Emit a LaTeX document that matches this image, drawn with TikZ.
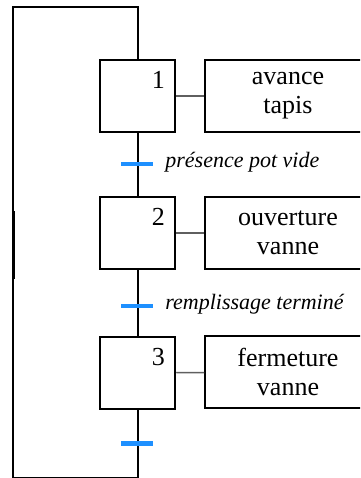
\documentclass[tikz,border=0pt]{standalone}
\usepackage{fontspec}
\setmainfont{Liberation Serif}
\usetikzlibrary{positioning,calc}
\definecolor{transblue}{RGB}{30,144,255}
\definecolor{liengray}{RGB}{95,95,95}

\begin{document}
\begin{tikzpicture}[x=0.5pt,y=-0.5pt,
    etape/.style={draw,line width=1.25pt,minimum width=37.5pt,minimum height=36pt,inner sep=0pt},
    action/.style={draw,line width=0.75pt,minimum width=83pt,minimum height=36pt,
      align=center,font=\fontsize{13}{14.5}\selectfont,inner sep=0pt},
    numero/.style={anchor=north east,inner sep=0pt,font=\fontsize{13}{14.5}\selectfont,
      xshift=-5.5pt,yshift=-6pt},
    recept/.style={anchor=base west,inner sep=0pt,font=\fontsize{11}{13}\selectfont\itshape},
    liaison/.style={line width=1pt},
    barre/.style={transblue,line width=2.25pt}]
        \clip (0,0) rectangle (360,478);

        % Steps and their actions
        \node[etape] (e1) at (137.5,96) {};
        \node[etape] (e2) at (137.5,233) {};
        \node[etape] (e3) at (137.5,373) {};
        \node[numero] (n1) at (e1.north east) {1};
        \node[numero] (n2) at (e2.north east) {2};
        \node[numero] (n3) at (e3.north east) {3};

        \node[action] (a1) at (288,96) {avance\\tapis};
        \node[action] (a2) at (288,233) {ouverture\\vanne};
        \node[action] (a3) at (288,372) {fermeture\\vanne};
        \draw[liengray,line width=0.75pt] (e1) -- (a1);
        \draw[liengray,line width=0.75pt] (e2) -- (a2);
        \draw[liengray,line width=0.75pt] (e3) -- (a3);

        % Links and loop back to step 1
        \coordinate (t1) at (137.5,164);
        \coordinate (t2) at (137.5,306);
        \coordinate (t3) at (137.5,443.5);
        \coordinate (bas) at (137.5,477.5);
        \coordinate (haut) at (13.3,6.7);
        \draw[liaison] (e1.south) -- (e2.north);
        \draw[liaison] (e2.south) -- (e3.north);
        \draw[liaison] (e3.south) -- (bas) -| (haut) -| (e1.north);
        \draw[line width=1.7pt] (13.3,211) -- (13.3,279);

        % Transitions
        \draw[barre] ([xshift=-8.25pt]t1) -- ([xshift=7.5pt]t1);
        \draw[barre] ([xshift=-8.25pt]t2) -- ([xshift=7.5pt]t2);
        \draw[barre] ([xshift=-8.25pt]t3) -- ([xshift=7.5pt]t3);
        \node[recept] (r1) at ([xshift=13.75pt,yshift=-1.5pt]t1) {présence pot vide};
        \node[recept] (r2) at ([xshift=13.75pt,yshift=-1.5pt]t2) {remplissage terminé};
\end{tikzpicture}
\end{document}
